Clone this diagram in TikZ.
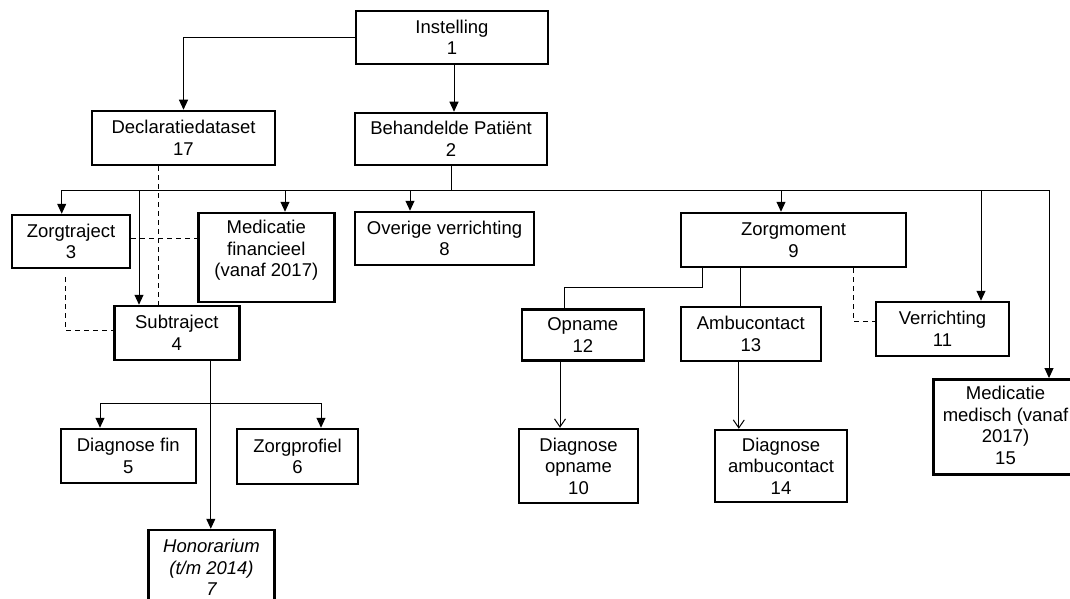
\documentclass[tikz,border=0pt]{standalone}
\usepackage{fontspec}
\setmainfont{Liberation Sans}
\usetikzlibrary{arrows.meta,positioning}

\begin{document}
\begin{tikzpicture}[x=1pt, y=-1pt, line width=1pt,
    box/.style={draw, line width=2.5pt, align=center, inner sep=0pt,
        font=\fontsize{18.5}{21.5}\selectfont},
    txt/.style={align=center, inner sep=0pt, font=\fontsize{18.5}{21.5}\selectfont},
    arr/.style={-{Triangle[length=10pt, width=9pt]}},
    varr/.style={-{Straight Barb[length=8pt, width=11pt]}},
    dsh/.style={dash pattern=on 5pt off 4pt}]
    \useasboundingbox (0,0) rectangle (1070,599);
    \clip (0,0) rectangle (1070,599);

    % top levels
    \node[box, minimum width=192pt, minimum height=53pt] (inst) at (452,37.5) {Instelling\\1};
    \node[box, minimum width=183pt, minimum height=54pt] (decl) at (183.5,138) {Declaratiedataset\\17};
    \node[box, minimum width=192pt, minimum height=52pt] (pat) at (451,139) {Behandelde Patiënt\\2};

    \draw[arr] (inst.west) -| (decl.north);
    \draw[arr] ([xshift=2pt]inst.south) -- ([xshift=2pt]inst.south |- pat.north);

    % children of Behandelde Patient
    \node[box, minimum width=118pt, minimum height=53pt] (ztraj) at (71,241.5) {Zorgtraject\\3};
    \node[box, minimum width=136pt, minimum height=89pt] (medfin) at (266.3,257.5) {};
    \node[txt, below=8pt of medfin.north] {Medicatie\\financieel\\(vanaf 2017)};
    \node[box, minimum width=179pt, minimum height=53pt] (overig) at (444.5,238.5) {Overige verrichting\\8};
    \node[box, minimum width=225pt, minimum height=54pt] (zmom) at (793.5,240) {Zorgmoment\\9};
    \node[box, minimum width=133pt, minimum height=54pt] (verr) at (942.5,329) {Verrichting\\11};
    \node[box, minimum width=144pt, minimum height=95pt] (medmed) at (1005.5,426.8) {};
    \node[txt, below=8pt of medmed.north] {Medicatie\\medisch (vanaf\\2017)\\15};

    % financial side
    \node[box, minimum width=125pt, minimum height=54pt] (sub) at (176.8,333) {Subtraject\\4};
    \node[box, minimum width=135pt, minimum height=54pt] (dfin) at (128.3,456) {Diagnose fin\\5};
    \node[box, minimum width=121pt, minimum height=55pt] (zprof) at (297.5,456.5) {Zorgprofiel\\6};
    \node[box, minimum width=126pt, minimum height=74pt] (hon) at (211.5,567) {};
    \node[txt, below=10pt of hon.north] {\itshape Honorarium\\\itshape (t/m 2014)\\\itshape 7};

    \coordinate (busL) at (61.7,190);
    \coordinate (busR) at (1049,190);
    \coordinate (b4) at (139,190);
    \coordinate (b16) at (285,190);
    \coordinate (b8) at (410,190);
    \coordinate (b9) at (781,190);
    \coordinate (b11) at (981,190);

    \draw (pat.south) -- (pat.south |- busL);
    \draw (busL) -- (busR);
    \draw[arr] (busL) -- (busL |- ztraj.north);
    \draw[arr] (b4) -- (b4 |- sub.north);
    \draw[arr] (b16) -- (b16 |- medfin.north);
    \draw[arr] (b8) -- (b8 |- overig.north);
    \draw[arr] (b9) -- (b9 |- zmom.north);
    \draw[arr] (b11) -- (b11 |- verr.north);
    \draw[arr] (busR) -- (busR |- medmed.north);

    \draw[dsh] ([xshift=-25.5pt]decl.south) -- ([xshift=-25.5pt]decl.south |- sub.north);
    \draw[dsh] ([yshift=3.2pt]ztraj.east) -- ([yshift=3.2pt]ztraj.east -| medfin.west);
    \draw[dsh] ([xshift=-6pt,yshift=-8pt]ztraj.south) |- ([yshift=3pt]sub.west);

    \coordinate (split) at (210.8,403.7);
    \draw[arr] ([xshift=34pt]sub.south) -- ([xshift=34pt]sub.south |- hon.north);
    \draw[arr] (split) -| ([xshift=-28.3pt]dfin.north);
    \draw[arr] (split) -| ([xshift=23.5pt]zprof.north);

    % care side
    \node[box, minimum width=122pt, minimum height=51pt] (opn) at (582.8,335) {Opname\\12};
    \node[box, minimum width=140pt, minimum height=54pt] (amb) at (750.8,334) {Ambucontact\\13};
    \node[box, minimum width=119pt, minimum height=74pt] (dopn) at (578.5,466) {Diagnose\\opname\\10};
    \node[box, minimum width=132pt, minimum height=72pt] (damb) at (781,466) {Diagnose\\ambucontact\\14};

    \draw ([xshift=-91.5pt]zmom.south) -- ++(0,19) -| ([xshift=-18.8pt]opn.north);
    \draw ([xshift=-10.8pt]amb.north) -- ([xshift=-10.8pt]amb.north |- zmom.south);
    \draw[dsh] ([xshift=60.2pt]zmom.south) |- ([yshift=7.3pt]verr.west);
    \draw[varr] ([xshift=-22.8pt]opn.south) -- ([xshift=-22.8pt]opn.south |- dopn.north);
    \draw[varr] ([xshift=-12pt]amb.south) -- ([xshift=-12pt]amb.south |- damb.north);
\end{tikzpicture}
\end{document}
